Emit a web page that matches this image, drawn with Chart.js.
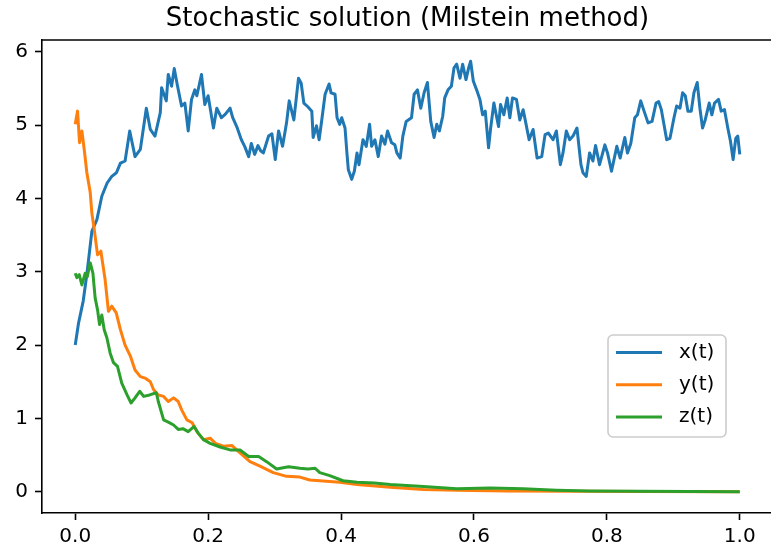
<!DOCTYPE html>
<html>
<head>
<meta charset="utf-8">
<script src="https://cdn.jsdelivr.net/npm/chart.js@4.4.1/dist/chart.umd.min.js"></script>
<style>
  html, body { margin: 0; padding: 0; overflow: hidden; background: #fff; }
  #wrap { width: 816px; height: 556px; }
</style>
</head>
<body>
<div id="wrap"><canvas id="chart" width="816" height="556"></canvas></div>
<script>
// values
const tX = [0, 0.005, 0.012, 0.018, 0.025, 0.0326, 0.040, 0.048, 0.055, 0.062, 0.068, 0.075, 0.082, 0.090, 0.098,
  0.107, 0.113, 0.120, 0.128, 0.130, 0.137, 0.140, 0.145, 0.149, 0.154, 0.160, 0.165, 0.170, 0.175, 0.180, 0.183,
  0.190, 0.195, 0.200, 0.208, 0.213, 0.220, 0.226, 0.233, 0.237, 0.243, 0.250, 0.255, 0.261, 0.265, 0.270, 0.275,
  0.279, 0.283, 0.291, 0.296, 0.301, 0.306, 0.312, 0.318, 0.322, 0.329, 0.336, 0.340, 0.344, 0.350, 0.356, 0.358,
  0.363, 0.367, 0.371, 0.376, 0.382, 0.385, 0.391, 0.394, 0.398, 0.401, 0.406, 0.409, 0.411, 0.416, 0.420, 0.424,
  0.427, 0.433, 0.438, 0.443, 0.446, 0.451, 0.456, 0.461, 0.466, 0.470, 0.476, 0.481, 0.484, 0.489, 0.493, 0.498,
  0.506, 0.510, 0.515, 0.520, 0.525, 0.530, 0.535, 0.540, 0.544, 0.548, 0.553, 0.556, 0.561, 0.566, 0.570, 0.574,
  0.579, 0.583, 0.588, 0.592, 0.595, 0.599, 0.604, 0.609, 0.613, 0.617, 0.622, 0.625, 0.630, 0.637, 0.640, 0.645,
  0.650, 0.654, 0.658, 0.664, 0.669, 0.674, 0.678, 0.683, 0.689, 0.695, 0.702, 0.707, 0.712, 0.719, 0.724, 0.730,
  0.734, 0.739, 0.744, 0.749, 0.755, 0.761, 0.764, 0.769, 0.774, 0.779, 0.783, 0.789, 0.797, 0.801, 0.807, 0.815,
  0.820, 0.827, 0.831, 0.836, 0.842, 0.846, 0.851, 0.856, 0.862, 0.868, 0.874, 0.878, 0.882, 0.890, 0.895, 0.901,
  0.905, 0.910, 0.914, 0.918, 0.922, 0.927, 0.931, 0.936, 0.940, 0.944, 0.948, 0.954, 0.958, 0.962, 0.968, 0.972,
  0.977, 0.982, 0.986, 0.990, 0.994, 0.997, 1.000];
const xValues = [2.00, 2.30, 2.60, 3.00, 3.55, 3.71, 4.03, 4.21, 4.30, 4.35, 4.48, 4.51, 4.92, 4.57, 4.67,
  5.23, 4.94, 4.85, 5.17, 5.51, 5.33, 5.69, 5.53, 5.77, 5.53, 5.26, 5.30, 4.92, 5.35, 5.48, 5.40,
  5.69, 5.28, 5.40, 4.96, 5.23, 5.10, 5.15, 5.23, 5.10, 4.98, 4.80, 4.71, 4.57, 4.75, 4.60, 4.72,
  4.65, 4.62, 4.85, 4.88, 4.53, 4.92, 4.71, 5.03, 5.33, 5.07, 5.64, 5.57, 5.30, 5.25, 5.19, 4.83,
  4.99, 4.80, 5.07, 5.42, 5.56, 5.44, 5.42, 5.10, 5.01, 5.10, 4.96, 4.60, 4.39, 4.26, 4.37, 4.62,
  4.46, 4.80, 4.71, 5.01, 4.71, 4.80, 4.57, 4.85, 4.74, 4.92, 4.76, 4.73, 4.62, 4.55, 4.85, 5.05,
  5.10, 5.42, 5.48, 5.23, 5.44, 5.58, 5.05, 4.83, 5.01, 4.92, 5.12, 5.37, 5.48, 5.53, 5.78, 5.83,
  5.64, 5.83, 5.62, 5.78, 5.87, 5.60, 5.48, 5.35, 5.14, 5.19, 4.69, 4.95, 5.30, 4.98, 5.28, 5.14,
  5.37, 5.10, 5.37, 5.35, 5.07, 5.21, 5.03, 4.80, 4.94, 4.55, 4.57, 4.87, 4.89, 4.80, 4.92, 4.46,
  4.62, 4.92, 4.80, 4.85, 4.96, 4.46, 4.35, 4.30, 4.62, 4.51, 4.72, 4.46, 4.73, 4.62, 4.37, 4.71,
  4.55, 4.83, 4.62, 4.75, 5.10, 5.14, 5.33, 5.19, 5.03, 5.05, 5.30, 5.32, 5.21, 4.80, 4.82, 5.10,
  5.26, 5.23, 5.44, 5.40, 5.19, 5.19, 5.44, 5.58, 5.23, 4.96, 5.07, 5.30, 5.14, 5.30, 5.35, 5.19,
  5.21, 4.96, 4.78, 4.53, 4.82, 4.85, 4.60];

const tY = [0, 0.0035, 0.0065, 0.010, 0.0135, 0.0175, 0.0226, 0.025, 0.029, 0.0336, 0.0386, 0.045, 0.050, 0.055,
  0.0617, 0.068, 0.075, 0.083, 0.090, 0.098, 0.105, 0.113, 0.118, 0.125, 0.133, 0.140, 0.148, 0.155, 0.160, 0.168,
  0.176, 0.183, 0.193, 0.203, 0.211, 0.223, 0.236, 0.248, 0.263, 0.278, 0.298, 0.318, 0.338, 0.353, 0.398, 0.424,
  0.474, 0.524, 0.574, 0.650, 0.750, 0.850, 1.000];
const yValues = [5.01, 5.19, 4.76, 4.92, 4.67, 4.35, 4.08, 3.80, 3.55, 3.23, 3.28, 2.89, 2.46, 2.53,
  2.44, 2.21, 2.00, 1.85, 1.66, 1.57, 1.55, 1.50, 1.39, 1.32, 1.30, 1.23, 1.28, 1.23, 1.12, 0.98,
  0.94, 0.82, 0.71, 0.73, 0.66, 0.62, 0.63, 0.53, 0.41, 0.35, 0.26, 0.21, 0.20, 0.16, 0.13, 0.10,
  0.06, 0.03, 0.02, 0.01, 0.005, 0.002, 0.0];

const tZ = [0, 0.0025, 0.006, 0.010, 0.015, 0.018, 0.0226, 0.0266, 0.030, 0.0336, 0.0366, 0.040, 0.0436, 0.0476,
  0.0526, 0.0576, 0.0636, 0.070, 0.078, 0.084, 0.090, 0.097, 0.103, 0.112, 0.122, 0.125, 0.133, 0.140, 0.148,
  0.155, 0.162, 0.170, 0.179, 0.185, 0.193, 0.203, 0.218, 0.233, 0.248, 0.261, 0.276, 0.288, 0.303, 0.321, 0.338,
  0.350, 0.361, 0.368, 0.383, 0.403, 0.424, 0.450, 0.474, 0.524, 0.574, 0.624, 0.674, 0.724, 0.774, 0.850, 1.000];
const zValues = [2.98, 2.92, 2.96, 2.82, 2.98, 2.93, 3.12, 2.98, 2.64, 2.48, 2.28, 2.41, 2.21, 2.10,
  1.89, 1.76, 1.71, 1.48, 1.32, 1.21, 1.28, 1.37, 1.30, 1.32, 1.35, 1.23, 0.98, 0.95, 0.91,
  0.85, 0.86, 0.82, 0.89, 0.80, 0.71, 0.66, 0.61, 0.57, 0.57, 0.48, 0.48, 0.41, 0.31, 0.34, 0.32,
  0.31, 0.32, 0.26, 0.22, 0.15, 0.13, 0.12, 0.10, 0.07, 0.04, 0.05, 0.04, 0.02, 0.01, 0.005, 0.0];

const seriesLabels = ['x(t)', 'y(t)', 'z(t)'];
const xTickValues = [0, 0.2, 0.4, 0.6, 0.8, 1.0];
const yTickValues = [0, 1, 2, 3, 4, 5, 6];

const colors = ['#1f77b4', '#ff7f0e', '#2ca02c'];
const font = 'DejaVu Sans';

const toPoints = (ts, vs) => ts.map((t, i) => ({ x: t, y: vs[i] }));

// top spine and a matplotlib-like legend inside the axes
const frameAndLegend = {
  id: 'frameAndLegend',
  afterDraw(chart) {
    const { ctx, chartArea: a } = chart;
    ctx.save();
    ctx.strokeStyle = '#000';
    ctx.lineWidth = 1.6;
    ctx.beginPath();
    ctx.moveTo(a.left, a.top);
    ctx.lineTo(a.right, a.top);
    ctx.stroke();

    const w = 118, h = 102;
    const bx = a.right - 47 - w, by = a.top + 295;
    ctx.beginPath();
    ctx.roundRect(bx, by, w, h, 5);
    ctx.fillStyle = 'rgba(255,255,255,0.8)';
    ctx.fill();
    ctx.strokeStyle = '#cccccc';
    ctx.lineWidth = 1.6;
    ctx.stroke();

    ctx.font = '20px "' + font + '"';
    ctx.textBaseline = 'middle';
    ctx.textAlign = 'left';
    chart.data.datasets.forEach((ds, i) => {
      const y = by + 17.5 + i * 32.2;
      ctx.strokeStyle = ds.borderColor;
      ctx.lineWidth = 3;
      ctx.beginPath();
      ctx.moveTo(bx + 8, y);
      ctx.lineTo(bx + 54, y);
      ctx.stroke();
      ctx.fillStyle = '#000';
      ctx.fillText(ds.label, bx + 71, y);
    });
    ctx.restore();
  }
};

new Chart(document.getElementById('chart'), {
  type: 'line',
  data: {
    datasets: [
      { label: seriesLabels[0], data: toPoints(tX, xValues), borderColor: colors[0], order: 3 },
      { label: seriesLabels[1], data: toPoints(tY, yValues), borderColor: colors[1], order: 2 },
      { label: seriesLabels[2], data: toPoints(tZ, zValues), borderColor: colors[2], order: 1 }
    ]
  },
  options: {
    responsive: false,
    animation: false,
    layout: { padding: { left: 0, right: 43, top: 0, bottom: 0 } },
    elements: {
      line: { borderWidth: 3, tension: 0, fill: false, borderJoinStyle: 'round' },
      point: { radius: 0, hoverRadius: 0 }
    },
    plugins: {
      legend: { display: false },
      tooltip: { enabled: false },
      title: {
        display: true,
        fullSize: false,
        text: 'Stochastic solution (Milstein method)',
        color: '#000',
        font: { family: font, size: 26, weight: 'normal', lineHeight: 1.2 },
        padding: { top: 3.7, bottom: 5.1 }
      }
    },
    scales: {
      x: {
        type: 'linear',
        min: -0.05,
        max: 1.05,
        afterBuildTicks: s => { s.ticks = xTickValues.map(v => ({ value: v })); },
        afterFit: s => { s.height = 43; },
        ticks: {
          color: '#000',
          font: { family: font, size: 20 },
          padding: 5,
          maxRotation: 0,
          callback: v => Number(v).toFixed(1)
        },
        grid: { drawOnChartArea: false, drawTicks: true, tickLength: 7, tickColor: '#000', tickWidth: 1.6 },
        border: { display: true, color: '#000', width: 1.6 }
      },
      y: {
        type: 'linear',
        min: -0.29,
        max: 6.16,
        afterBuildTicks: s => { s.ticks = yTickValues.map(v => ({ value: v })); },
        afterFit: s => { s.width = 42; },
        ticks: {
          color: '#000',
          font: { family: font, size: 20 },
          padding: 7,
          callback: v => String(v)
        },
        grid: { drawOnChartArea: false, drawTicks: true, tickLength: 7, tickColor: '#000', tickWidth: 1.6 },
        border: { display: true, color: '#000', width: 1.6 }
      }
    }
  },
  plugins: [frameAndLegend]
});
</script>
</body>
</html>
